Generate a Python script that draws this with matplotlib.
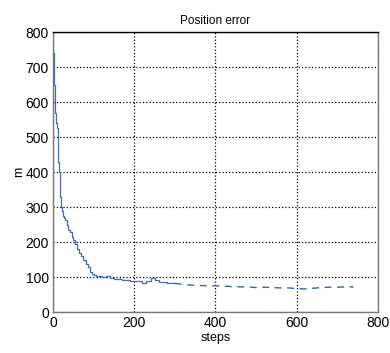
import matplotlib
matplotlib.use("Agg")
import matplotlib.pyplot as plt

plt.rcParams['font.family'] = ['Liberation Sans', 'DejaVu Sans']

# position error, early part (solid trace)
steps_a = [1, 2, 3, 4, 5, 6, 8, 10, 11, 12, 14, 16, 18, 20, 22, 24, 26, 28, 30, 34, 38, 42,
           46, 50, 55, 60, 65, 70, 75, 80, 85, 90, 95, 100, 105, 110, 120, 130, 140, 150,
           160, 170, 180, 190, 200, 210, 220, 230, 240, 250, 260, 270, 280, 290, 300]
err_a = [740, 700, 650, 610, 580, 570, 540, 525, 480, 430, 400, 370, 330, 300, 290, 275, 268,
         270, 262, 250, 235, 228, 215, 205, 195, 180, 170, 160, 150, 138, 128, 115, 108, 105,
         102, 104, 100, 103, 97, 95, 94, 93, 92, 90, 90, 88, 84, 88, 96, 92, 86, 85, 82, 84, 82]
# later part, drawn broken
steps_b = [300, 320, 340, 360, 380, 400, 420, 440, 460, 480, 500, 520, 540, 560, 580, 600,
           620, 640, 660, 680, 700, 720, 740]
err_b = [82, 79, 77, 76, 75, 75, 74, 73, 72, 72, 70, 71, 70, 69, 69, 67, 66, 68, 70, 71, 71,
         72, 72]

xticks = [0, 200, 400, 600, 800]
yticks = [0, 100, 200, 300, 400, 500, 600, 700, 800]

fig = plt.figure(figsize=(3.9, 3.53), dpi=100)
ax = fig.add_axes([0.136, 0.116, 0.833, 0.793])

ax.plot(steps_a, err_a, color='#4468bb', linewidth=0.9, drawstyle='steps-post')
ax.plot(steps_b, err_b, color='#3a5fb5', linewidth=1.0, linestyle=(0, (5, 4)))

ax.set_xlim(0, 800)
ax.set_ylim(0, 800)
ax.set_xticks(xticks)
ax.set_yticks(yticks)
ax.grid(True, color='black', linestyle=':', linewidth=0.9)
ax.tick_params(labelsize=10, length=0, pad=3)
for s in ax.spines.values():
    s.set_color('#777777')
    s.set_linewidth(1.0)
ax.spines['top'].set_color('black')

ax.set_title("Position error", fontsize=8.5, pad=6)
ax.set_xlabel("steps", fontsize=9, labelpad=1)
ax.set_ylabel("m", fontsize=9, labelpad=0)

plt.savefig("out.png", dpi=100)
